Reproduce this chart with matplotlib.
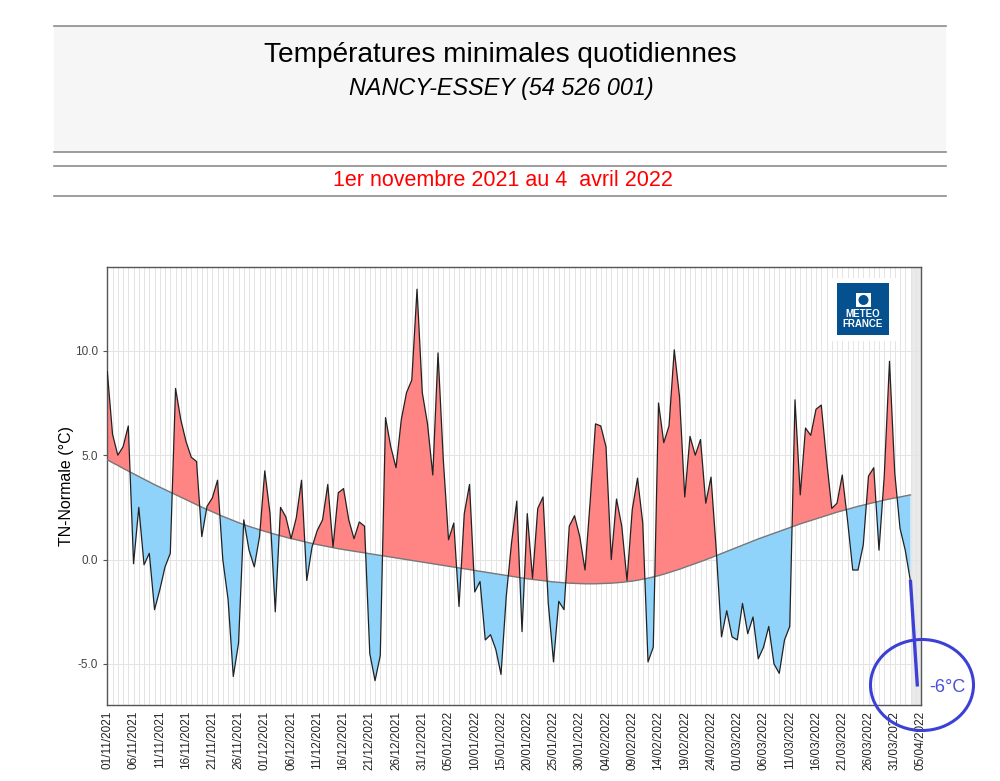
import numpy as np
import pandas as pd
import matplotlib
matplotlib.use("Agg")
import matplotlib.pyplot as plt
import matplotlib.dates as mdates
from matplotlib.patches import Rectangle, Ellipse

plt.rcParams['font.family'] = ['Liberation Sans', 'DejaVu Sans']

# daily minimum temperatures, 01/11/2021 -> 03/04/2022
tn = [9.0, 6.0, 5.0, 5.4, 6.4, -0.2, 2.5, -0.25, 0.3, -2.4,
      -1.45, -0.35, 0.3, 8.2, 6.7, 5.65, 4.9, 4.7, 1.1, 2.55,
      2.95, 3.8, 0.0, -1.9, -5.6, -4.0, 1.9, 0.45, -0.35, 1.1,
      4.25, 2.2, -2.5, 2.5, 2.05, 1.0, 2.0, 3.8, -1.0, 0.6,
      1.4, 1.9, 3.6, 0.6, 3.2, 3.4, 1.9, 1.0, 1.8, 1.6,
      -4.5, -5.8, -4.6, 6.8, 5.4, 4.4, 6.7, 8.0, 8.6, 12.95,
      8.0, 6.5, 4.05, 9.9, 4.8, 0.95, 1.75, -2.25, 2.2, 3.6,
      -1.55, -1.05, -3.85, -3.6, -4.3, -5.5, -1.75, 0.8, 2.8, -3.45,
      2.2, -0.9, 2.45, 3.0, -2.1, -4.9, -2.0, -2.4, 1.6, 2.1,
      1.1, -0.5, 2.85, 6.5, 6.4, 5.4, 0.0, 2.9, 1.6, -1.0,
      2.4, 3.9, 1.75, -4.9, -4.2, 7.5, 5.6, 6.4, 10.05, 7.8,
      3.0, 5.9, 5.0, 5.75, 2.7, 3.95, 0.45, -3.7, -2.45, -3.7,
      -3.85, -2.1, -3.55, -2.75, -4.75, -4.2, -3.2, -5.0, -5.45, -3.85,
      -3.2, 7.65, 3.1, 6.3, 5.95, 7.2, 7.4, 4.8, 2.45, 2.7,
      4.05, 1.9, -0.5, -0.5, 0.7, 4.0, 4.4, 0.45, 4.0, 9.5,
      4.15, 1.5, 0.45, -1.05]

# normal minimum temperatures for the same days
normal = [4.78, 4.64, 4.51, 4.37, 4.24, 4.11, 3.98, 3.85, 3.72, 3.59,
          3.47, 3.35, 3.23, 3.11, 2.99, 2.87, 2.75, 2.63, 2.51, 2.40,
          2.29, 2.18, 2.07, 1.97, 1.87, 1.77, 1.68, 1.59, 1.51, 1.43,
          1.35, 1.28, 1.21, 1.14, 1.07, 1.01, 0.95, 0.89, 0.83, 0.77,
          0.72, 0.67, 0.62, 0.57, 0.52, 0.48, 0.44, 0.40, 0.36, 0.32,
          0.28, 0.24, 0.20, 0.16, 0.12, 0.08, 0.04, 0.00, -0.04, -0.08,
          -0.12, -0.16, -0.20, -0.24, -0.28, -0.32, -0.36, -0.40, -0.44, -0.48,
          -0.52, -0.56, -0.60, -0.64, -0.68, -0.72, -0.76, -0.80, -0.84, -0.88,
          -0.92, -0.95, -0.98, -1.01, -1.04, -1.07, -1.09, -1.11, -1.13, -1.14,
          -1.15, -1.16, -1.16, -1.16, -1.15, -1.14, -1.13, -1.11, -1.09,
          -1.06, -1.03, -0.99, -0.94, -0.89, -0.83, -0.77, -0.70, -0.62, -0.54,
          -0.46, -0.37, -0.28, -0.19, -0.10, -0.01, 0.09, 0.19, 0.29, 0.39,
          0.49, 0.59, 0.69, 0.79, 0.89, 0.99, 1.08, 1.17, 1.26, 1.35,
          1.44, 1.53, 1.62, 1.71, 1.79, 1.87, 1.95, 2.03, 2.11, 2.19,
          2.27, 2.34, 2.41, 2.48, 2.55, 2.61, 2.67, 2.73, 2.79, 2.85,
          2.90, 2.95, 3.00, 3.05, 3.10]

start_date = '2021-11-01'
end_date = '2022-04-05'
yticks = [-5.0, 0.0, 5.0, 10.0]
title = 'Températures minimales quotidiennes'
station = 'NANCY-ESSEY (54 526 001)'
period = '1er novembre 2021 au 4  avril 2022'
note_value = -6.0
note_text = '-6°C'

days = pd.date_range(start_date, periods=len(tn), freq='D')
tn = np.array(tn)
normal = np.array(normal)

W, H = 1000, 781
fig = plt.figure(figsize=(W / 100, H / 100), dpi=100)


def fx(x):
    return x / W


def fy(y):
    return 1 - y / H


# header block
fig.patches.append(Rectangle((fx(54), fy(152)), fx(946) - fx(54), fy(26) - fy(152),
                             transform=fig.transFigure, facecolor='#F6F6F6', edgecolor='none'))
for yy in [26, 152, 165.5, 195.5]:
    fig.add_artist(plt.Line2D([fx(54), fx(946)], [fy(yy), fy(yy)], transform=fig.transFigure,
                              color='#8C8C8C', lw=1.2))
fig.text(0.5, fy(55), title, ha='center', va='center', fontsize=20.2, color='black')
fig.text(0.501, fy(88), station, ha='center', va='center', fontsize=16.8, style='italic', color='black')
fig.text(0.503, fy(180), period, ha='center', va='center', fontsize=15.5, color='#FF0000')

ax = fig.add_axes([fx(107.3), fy(705.3), fx(921) - fx(107.3), fy(267.3) - fy(705.3)])
end = pd.Timestamp(end_date)
ax.set_xlim(days[0], end)
ax.set_ylim(-6.98, 14.0)

# gray band after the last available day
ax.axvspan(days[-1] + pd.Timedelta(hours=6), end, color='#EAEAEA', lw=0, zorder=0)

ax.fill_between(days, tn, normal, where=tn >= normal, interpolate=True,
                facecolor='#FF8484', edgecolor='none', zorder=2)
ax.fill_between(days, tn, normal, where=tn < normal, interpolate=True,
                facecolor='#8FD2FA', edgecolor='none', zorder=2)
ax.plot(days, normal, color='#777777', lw=1.0, zorder=3)
ax.plot(days, tn, color='#222222', lw=0.9, zorder=4)

ax.set_yticks(yticks)
ax.yaxis.set_major_formatter(matplotlib.ticker.FormatStrFormatter('%.1f'))
ticks = pd.date_range(start_date, end_date, freq='5D')
ax.set_xticks(ticks)
ax.xaxis.set_major_formatter(mdates.DateFormatter('%d/%m/%Y'))
ax.xaxis.set_minor_locator(mdates.DayLocator())
ax.tick_params(axis='x', which='major', labelrotation=90, labelsize=8.5, length=0,
               pad=4, labelcolor='#222222')
ax.tick_params(axis='x', which='minor', length=0)
ax.tick_params(axis='y', labelsize=8.5, length=3, color='#555555', labelcolor='#444444')
ax.grid(True, axis='x', which='both', color='#E4E4E4', lw=0.7, zorder=0)
ax.grid(True, axis='y', which='major', color='#E4E4E4', lw=0.8, zorder=0)
ax.set_axisbelow(True)
for s in ax.spines.values():
    s.set_color('#555555')
    s.set_linewidth(1.0)
ax.set_ylabel('TN-Normale (°C)', fontsize=11.5, labelpad=1)

# Meteo-France logo
fig.patches.append(Rectangle((fx(829), fy(341)), fx(897) - fx(829), fy(278) - fy(341),
                             transform=fig.transFigure, facecolor='white', edgecolor='none', zorder=5))
fig.patches.append(Rectangle((fx(837), fy(335)), fx(889) - fx(837), fy(283) - fy(335),
                             transform=fig.transFigure, facecolor='#05508F', edgecolor='none', zorder=6))
fig.patches.append(Rectangle((fx(856), fy(307)), fx(871) - fx(856), fy(293) - fy(307),
                             transform=fig.transFigure, facecolor='white', edgecolor='none', zorder=7))
fig.patches.append(Ellipse((fx(863.5), fy(300)), fx(10), 10 / H, transform=fig.transFigure,
                           facecolor='#05508F', edgecolor='none', zorder=8))
fig.text(fx(863), fy(319), 'METEO\nFRANCE', ha='center', va='center', fontsize=7,
         fontweight='bold', color='white', linespacing=1.0, zorder=9)

# hand-drawn annotation
ax.plot([days[-1], days[-1] + pd.Timedelta(hours=31)], [tn[-1], note_value],
        color='#3C40D4', lw=2.4, clip_on=False, zorder=10)
fig.patches.append(Ellipse((fx(922), fy(685)), fx(103), 91 / H, transform=fig.transFigure,
                           facecolor='none', edgecolor='#3C40D4', lw=2.2, zorder=10))
fig.text(fx(929), fy(687), note_text, ha='left', va='center', fontsize=13,
         color='#4B50D8', zorder=11)

fig.savefig('out.png', dpi=100)
